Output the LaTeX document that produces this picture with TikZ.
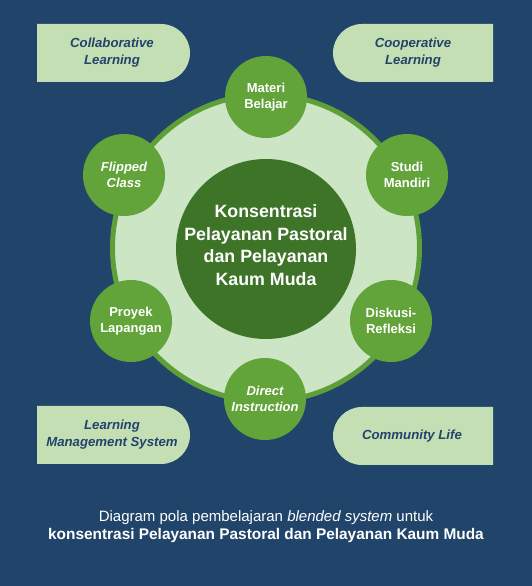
\documentclass[tikz,border=0pt]{standalone}
\usepackage{fontspec}
\setmainfont{Liberation Sans}
\definecolor{bg}{HTML}{21456A}
\definecolor{boxgreen}{HTML}{C5DFB4}
\definecolor{ringfill}{HTML}{CCE5C4}
\definecolor{ringline}{HTML}{5E9F3A}
\definecolor{smallc}{HTML}{62A33A}
\definecolor{centerc}{HTML}{3E7428}
\definecolor{boxtext}{HTML}{22446A}
\tikzset{
  boxlabel/.style={text=boxtext, font=\fontsize{13.2}{17}\selectfont\bfseries\itshape, align=center},
  smallcirc/.style={circle, fill=smallc, minimum size=82pt, inner sep=0pt, text=white, font=\fontsize{13}{16.5}\selectfont\bfseries, align=center},
}
\begin{document}
\begin{tikzpicture}[x=1pt,y=1pt]
\fill[bg] (0,0) rectangle (532,586);
\useasboundingbox (0,0) rectangle (532,586);
% boxes
\fill[boxgreen] (37,504) -- (161,504) arc(-90:90:29) -- (37,562) -- cycle;
\node[boxlabel] (collab) at (112,533) {Collaborative\\Learning};
\fill[boxgreen] (493,504) -- (362,504) arc(270:90:29) -- (493,562) -- cycle;
\node[boxlabel] (coop) at (413,533) {Cooperative\\Learning};
\fill[boxgreen] (37,122) -- (161,122) arc(-90:90:29) -- (37,180) -- cycle;
\node[boxlabel] (lms) at (112,151) {Learning\\Management System};
\fill[boxgreen] (493,121) -- (362,121) arc(270:90:29) -- (493,179) -- cycle;
\node[boxlabel] (comm) at (412,150) {Community Life};
% ring
\node[circle, fill=ringfill, draw=ringline, line width=5pt, minimum size=307pt, inner sep=0pt] (ring) at (266,338) {};
\node[circle, fill=centerc, minimum size=180pt, inner sep=0pt] (center) at (266,337) {};
\node[text=white, font=\fontsize{17.8}{22.5}\selectfont\bfseries, align=center] (centertext) at (266,341) {Konsentrasi\\Pelayanan Pastoral\\dan Pelayanan\\Kaum Muda};
% small circles
\node[smallcirc] (materi) at (266,489) {Materi\\Belajar};
\node[smallcirc] (studi) at (407,411) {Studi\\Mandiri};
\node[smallcirc] (flipped) at (124,411) {\itshape Flipped\\\itshape Class};
\node[smallcirc] (diskusi) at (391,265) {Diskusi-\\Refleksi};
\node[smallcirc] (proyek) at (131,265) {Proyek\\Lapangan};
\node[smallcirc] (direct) at (265,187) {\itshape Direct\\\itshape Instruction};
% caption
\node[text=white, font=\fontsize{15}{16}\selectfont] (cap1) at (266,68) {Diagram pola pembelajaran \textit{blended system} untuk};
\node[text=white, font=\fontsize{15.4}{16}\selectfont\bfseries] (cap2) at (266,50) {konsentrasi Pelayanan Pastoral dan Pelayanan Kaum Muda};
\end{tikzpicture}
\end{document}
